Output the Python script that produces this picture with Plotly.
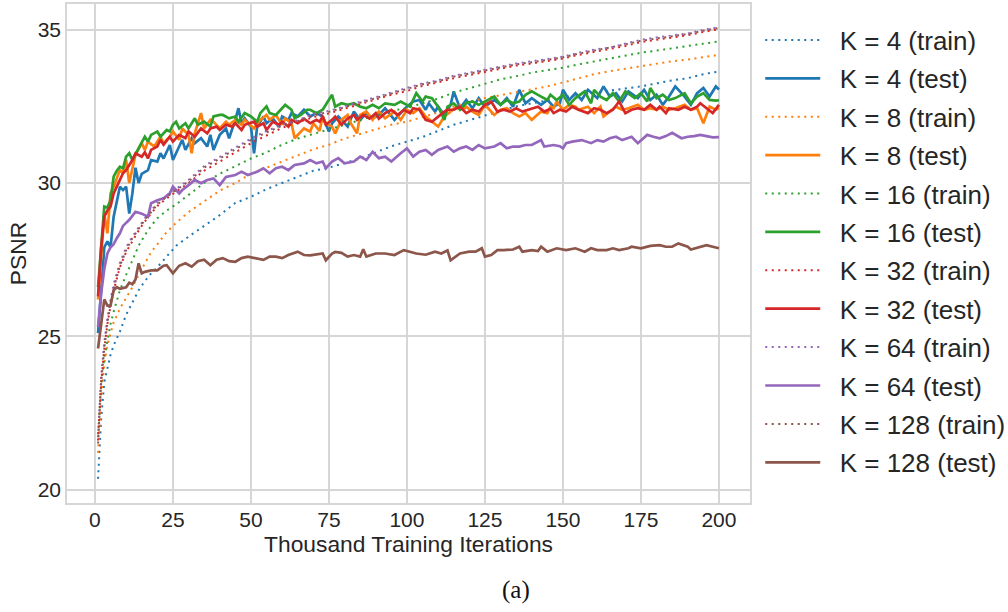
import plotly.graph_objects as go

# Sample iterations (thousands) for the smooth training curves
TRAIN_X = [1, 2, 3, 4, 5, 6, 8, 10, 12, 14, 16, 18, 20, 23, 26, 30, 35, 40, 45, 50,
           55, 60, 65, 70, 75, 80, 85, 90, 95, 100, 105, 110, 115, 120, 125, 130, 135, 140, 145, 150,
           155, 160, 165, 170, 175, 180, 185, 190, 195, 200]

TRAIN_K4 = [20.35, 22.3, 23.5, 24.0, 24.4, 24.7, 25.15, 25.7, 26.1, 26.5, 26.8, 27.05, 27.25, 27.6, 27.95, 28.25, 28.6, 28.95, 29.35, 29.55,
            29.8, 30.0, 30.2, 30.4, 30.5, 30.65, 30.8, 31.0, 31.2, 31.35, 31.5, 31.7, 31.9, 32.05, 32.2, 32.35, 32.5, 32.6, 32.7, 32.8,
            32.88, 32.95, 33.02, 33.1, 33.15, 33.25, 33.35, 33.42, 33.55, 33.64]
TRAIN_K8 = [21.2, 23.0, 24.1, 24.7, 25.1, 25.45, 25.9, 26.25, 26.6, 27.0, 27.4, 27.75, 28.0, 28.4, 28.7, 29.05, 29.4, 29.75, 30.0, 30.3,
            30.5, 30.7, 30.9, 31.1, 31.25, 31.45, 31.6, 31.75, 31.9, 32.0, 32.15, 32.3, 32.5, 32.65, 32.77, 32.87, 32.97, 33.05, 33.15, 33.28,
            33.42, 33.55, 33.65, 33.73, 33.82, 33.9, 33.97, 34.03, 34.1, 34.18]
TRAIN_K16 = [21.8, 23.4, 24.3, 24.9, 25.4, 25.8, 26.5, 27.0, 27.45, 27.95, 28.3, 28.6, 28.85, 29.1, 29.3, 29.6, 30.0, 30.3, 30.55, 30.8,
             31.0, 31.25, 31.45, 31.6, 31.75, 31.9, 32.05, 32.2, 32.35, 32.45, 32.6, 32.75, 32.95, 33.1, 33.25, 33.38, 33.48, 33.6, 33.68, 33.76,
             33.87, 33.97, 34.07, 34.17, 34.25, 34.32, 34.4, 34.47, 34.55, 34.62]
TRAIN_K32 = [21.6, 23.5, 24.6, 25.4, 26.0, 26.5, 27.25, 27.75, 28.1, 28.45, 28.75, 29.0, 29.25, 29.5, 29.72, 30.0, 30.4, 30.7, 31.0, 31.3,
             31.55, 31.8, 31.97, 32.15, 32.27, 32.42, 32.57, 32.73, 32.88, 33.0, 33.17, 33.28, 33.42, 33.52, 33.63, 33.72, 33.83, 33.9, 33.98, 34.06,
             34.18, 34.27, 34.36, 34.47, 34.6, 34.68, 34.76, 34.82, 34.93, 35.02]
TRAIN_K64 = [21.7, 23.7, 24.8, 25.6, 26.2, 26.7, 27.4, 27.9, 28.25, 28.55, 28.85, 29.1, 29.35, 29.6, 29.8, 30.1, 30.55, 30.85, 31.15, 31.45,
             31.7, 31.9, 32.05, 32.25, 32.35, 32.5, 32.65, 32.82, 32.97, 33.1, 33.25, 33.35, 33.5, 33.6, 33.7, 33.8, 33.9, 33.97, 34.05, 34.12,
             34.25, 34.35, 34.42, 34.55, 34.67, 34.75, 34.82, 34.88, 35.0, 35.08]
TRAIN_K128 = [21.5, 23.5, 24.6, 25.45, 26.05, 26.55, 27.3, 27.8, 28.2, 28.5, 28.8, 29.05, 29.3, 29.55, 29.77, 30.05, 30.5, 30.8, 31.1, 31.4,
              31.65, 31.87, 32.02, 32.2, 32.32, 32.47, 32.62, 32.78, 32.93, 33.06, 33.22, 33.32, 33.47, 33.57, 33.67, 33.77, 33.87, 33.94, 34.02, 34.1,
              34.22, 34.32, 34.4, 34.52, 34.64, 34.72, 34.8, 34.86, 34.97, 35.06]

# Test PSNR curves (noisy), each with its own iteration samples
TEST_K4_X = [1, 2, 3, 4, 5, 6, 7, 8, 9, 10, 11, 12, 13, 14, 15, 17, 18, 20, 21, 22,
             24, 25, 26, 28, 29, 31, 32, 34, 36, 37, 38, 40, 42, 43, 45, 46, 47, 48, 50, 51,
             52, 54, 55, 57, 59, 60, 62, 63, 65, 67, 69, 71, 73, 75, 76, 78, 81, 83, 85, 87,
             89, 91, 93, 96, 98, 100, 102, 104, 106, 107, 109, 110, 112, 114, 115, 117, 119, 121, 123, 125,
             128, 130, 132, 134, 136, 138, 140, 143, 145, 147, 149, 150, 152, 154, 156, 158, 161, 163, 165, 167,
             169, 171, 174, 176, 178, 180, 182, 184, 186, 189, 191, 193, 195, 197, 199, 200]
TEST_K4 = [25.1, 26.6, 27.9, 28.1, 27.9, 28.9, 29.44, 29.88, 29.77, 29.88, 29.0, 29.66, 30.5, 30.0, 30.3, 30.42, 30.75, 30.7, 30.97, 30.8,
           31.24, 30.75, 30.97, 31.41, 31.08, 31.46, 31.3, 31.46, 31.19, 31.57, 31.08, 31.57, 31.78, 31.46, 32.06, 32.44, 31.95, 32.11, 31.84, 30.97,
           31.84, 32.17, 31.95, 32.11, 31.84, 32.17, 32.06, 32.28, 32.17, 32.39, 32.17, 32.28, 32.17, 31.68, 31.95, 32.17, 31.84, 32.33, 32.06, 32.28,
           32.11, 32.22, 32.44, 32.06, 32.28, 32.49, 32.66, 32.71, 32.39, 32.6, 32.33, 32.49, 32.22, 32.55, 32.99, 32.44, 32.71, 32.44, 32.77, 32.49,
           32.71, 32.55, 32.77, 32.49, 33.04, 32.6, 32.77, 32.55, 32.71, 32.49, 32.6, 33.04, 32.71, 32.93, 32.71, 33.04, 32.77, 33.15, 32.82, 32.93,
           32.66, 32.99, 32.77, 33.04, 32.71, 32.88, 32.55, 32.82, 33.15, 32.82, 32.55, 32.93, 33.1, 32.82, 33.15, 33.05]

TEST_K8_X = [1, 2, 3, 4, 5, 6, 8, 9, 10, 11, 13, 15, 16, 17, 19, 21, 22, 24, 25, 27,
             28, 30, 31, 32, 34, 35, 37, 38, 40, 42, 43, 45, 47, 48, 51, 53, 55, 56, 58, 60,
             61, 63, 64, 67, 69, 70, 72, 73, 74, 76, 77, 79, 81, 82, 84, 85, 87, 89, 91, 93,
             96, 98, 100, 102, 104, 106, 108, 110, 112, 114, 116, 118, 119, 121, 123, 125, 128, 130, 132, 134,
             136, 138, 140, 143, 145, 146, 147, 148, 150, 152, 154, 155, 158, 160, 162, 163, 165, 167, 169, 171,
             174, 176, 178, 180, 182, 184, 186, 189, 191, 193, 195, 197, 199, 200]
TEST_K8 = [26.2, 27.6, 29.0, 28.36, 29.66, 29.88, 30.42, 30.32, 30.75, 30.0, 30.92, 31.3, 31.08, 31.35, 31.19, 31.51, 31.3, 31.51, 31.68, 31.41,
           31.78, 31.57, 30.97, 31.62, 32.28, 31.78, 32.06, 32.0, 31.78, 32.0, 31.9, 32.06, 31.9, 32.06, 31.78, 32.06, 32.22, 32.06, 32.22, 31.9,
           32.11, 31.95, 31.46, 31.78, 31.68, 31.95, 31.7, 32.17, 31.95, 31.84, 31.62, 32.06, 32.22, 31.95, 31.62, 32.22, 32.33, 32.06, 32.33, 32.11,
           32.33, 32.06, 32.39, 32.28, 32.44, 32.17, 32.0, 31.84, 32.17, 32.33, 32.49, 32.39, 32.49, 32.33, 32.22, 32.55, 32.22, 32.39, 32.44, 32.28,
           32.17, 32.28, 32.06, 32.33, 32.28, 32.49, 32.44, 32.66, 32.39, 32.55, 32.49, 32.39, 32.49, 32.28, 32.49, 32.17, 32.33, 32.49, 32.39, 32.44,
           32.55, 32.39, 32.44, 32.39, 32.49, 32.39, 32.44, 32.55, 32.39, 32.44, 31.95, 32.49, 32.39, 32.45]

TEST_K16_X = [1, 2, 3, 4, 5, 6, 7, 8, 9, 10, 11, 12, 14, 15, 16, 17, 18, 20, 21, 23,
              24, 25, 26, 27, 29, 30, 32, 33, 35, 37, 38, 40, 41, 43, 45, 46, 48, 50, 52, 53,
              55, 56, 58, 60, 61, 63, 64, 66, 68, 69, 71, 73, 75, 76, 77, 79, 81, 83, 85, 87,
              89, 91, 93, 96, 98, 100, 101, 103, 105, 106, 108, 110, 112, 113, 115, 117, 119, 121, 123, 126,
              128, 130, 132, 134, 136, 138, 140, 143, 145, 146, 148, 150, 152, 154, 157, 159, 160, 162, 164, 166,
              168, 170, 173, 175, 177, 178, 180, 182, 184, 186, 189, 191, 193, 195, 197, 199, 200]
TEST_K16 = [26.6, 28.0, 29.23, 29.2, 29.44, 30.21, 30.4, 30.53, 30.48, 30.86, 30.97, 30.75, 31.13, 31.3, 31.51, 31.35, 31.57, 31.68, 31.51, 31.73,
            31.68, 31.9, 32.0, 31.78, 31.95, 31.78, 32.11, 31.9, 32.0, 31.84, 32.17, 32.22, 32.22, 32.11, 32.17, 32.0, 32.28, 32.17, 32.0, 32.28,
            32.5, 32.28, 32.22, 32.44, 32.55, 32.39, 32.11, 32.22, 32.39, 32.39, 32.28, 32.39, 32.72, 32.88, 32.49, 32.6, 32.55, 32.6, 32.49, 32.44,
            32.55, 32.44, 32.6, 32.55, 32.66, 32.55, 32.49, 32.93, 32.66, 32.82, 32.77, 32.49, 32.06, 32.49, 32.6, 32.39, 32.6, 32.66, 32.55, 32.71,
            32.82, 32.55, 32.71, 32.6, 32.66, 32.88, 32.99, 32.82, 32.71, 32.88, 32.71, 32.88, 32.55, 32.77, 32.99, 32.6, 33.04, 32.82, 32.71, 32.93,
            32.66, 32.99, 32.77, 32.93, 32.66, 33.1, 32.77, 32.88, 32.71, 32.77, 32.93, 32.6, 32.82, 32.93, 32.71, 32.69, 32.7]

TEST_K32_X = [1, 2, 3, 4, 5, 6, 7, 9, 10, 12, 13, 15, 16, 17, 18, 20, 21, 22, 24, 25,
              27, 29, 30, 32, 34, 36, 37, 39, 40, 42, 44, 45, 47, 48, 51, 52, 54, 55, 57, 59,
              60, 62, 63, 65, 67, 69, 71, 72, 73, 74, 76, 77, 79, 81, 83, 84, 86, 88, 90, 91,
              93, 95, 97, 99, 101, 102, 104, 106, 108, 110, 112, 113, 115, 117, 119, 121, 123, 125, 127, 129,
              131, 133, 135, 137, 139, 142, 144, 146, 147, 149, 151, 153, 155, 158, 160, 162, 164, 166, 168, 170,
              172, 174, 176, 178, 180, 181, 183, 184, 187, 189, 191, 193, 194, 196, 198, 200]
TEST_K32 = [26.3, 27.9, 28.9, 29.1, 29.23, 29.66, 29.88, 30.32, 30.42, 30.75, 30.97, 30.86, 31.0, 30.8, 31.08, 31.19, 31.41, 31.25, 31.51, 31.35,
            31.57, 31.46, 31.68, 31.51, 31.78, 31.62, 31.78, 31.84, 31.73, 31.9, 31.84, 31.95, 31.73, 31.9, 32.0, 31.84, 31.95, 31.73, 32.0, 31.9,
            32.0, 31.84, 32.06, 31.95, 32.1, 31.95, 32.06, 32.0, 32.17, 31.9, 32.06, 32.17, 31.9, 32.1, 32.22, 32.06, 32.22, 32.1, 32.28, 32.1,
            32.28, 32.39, 32.22, 32.39, 32.28, 32.44, 32.39, 32.06, 32.0, 32.17, 32.33, 32.39, 32.39, 32.49, 32.28, 32.39, 32.33, 32.55, 32.66, 32.33,
            32.39, 32.33, 32.44, 32.33, 32.39, 32.49, 32.33, 32.42, 32.28, 32.39, 32.33, 32.49, 32.39, 32.28, 32.44, 32.39, 32.28, 32.39, 32.66, 32.28,
            32.39, 32.44, 32.39, 32.55, 32.39, 32.49, 32.28, 32.44, 32.39, 32.49, 32.39, 32.49, 32.6, 32.44, 32.28, 32.55]

TEST_K64_X = [1, 2, 3, 4, 5, 6, 7, 8, 9, 10, 11, 13, 15, 17, 18, 20, 22, 24, 25, 27,
              28, 30, 32, 34, 36, 38, 40, 42, 45, 47, 49, 52, 54, 56, 58, 60, 62, 64, 67, 69,
              71, 73, 74, 76, 78, 80, 83, 85, 87, 89, 91, 93, 95, 98, 100, 102, 104, 106, 108, 110,
              113, 115, 117, 119, 121, 123, 125, 128, 130, 132, 134, 136, 138, 140, 143, 144, 147, 149, 150, 151,
              153, 156, 159, 161, 163, 165, 167, 169, 172, 174, 176, 177, 179, 181, 183, 185, 188, 190, 192, 194,
              196, 198, 200]
TEST_K64 = [25.3, 26.4, 27.2, 27.7, 27.9, 28.0, 28.2, 28.36, 28.6, 28.7, 28.8, 29.06, 29.0, 28.9, 29.34, 29.44, 29.5, 29.66, 29.88, 29.66,
            29.77, 29.93, 30.1, 29.99, 30.1, 30.15, 29.93, 30.2, 30.26, 30.37, 30.26, 30.37, 30.48, 30.32, 30.48, 30.53, 30.42, 30.59, 30.64, 30.75,
            30.64, 30.7, 30.48, 30.7, 30.81, 30.64, 30.7, 30.86, 30.75, 31.02, 30.81, 30.86, 30.7, 30.97, 31.13, 30.86, 31.02, 31.08, 30.92, 31.08,
            31.19, 31.02, 31.13, 31.19, 31.08, 31.24, 31.13, 31.19, 31.3, 31.13, 31.19, 31.19, 31.24, 31.24, 31.4, 31.19, 31.24, 31.2, 31.13, 31.3,
            31.35, 31.4, 31.3, 31.4, 31.35, 31.46, 31.51, 31.4, 31.51, 31.3, 31.46, 31.57, 31.51, 31.46, 31.53, 31.64, 31.46, 31.51, 31.53, 31.57,
            31.53, 31.49, 31.5]

TEST_K128_X = [1, 2, 3, 4, 5, 6, 7, 8, 10, 11, 12, 13, 14, 15, 16, 18, 20, 22, 23, 25,
               27, 29, 31, 33, 35, 37, 39, 41, 43, 45, 47, 49, 51, 54, 56, 58, 60, 62, 65, 67,
               69, 71, 73, 74, 76, 77, 79, 81, 83, 85, 86, 87, 90, 93, 96, 99, 103, 106, 109, 111,
               113, 114, 117, 120, 122, 124, 125, 127, 129, 131, 134, 136, 137, 140, 142, 143, 145, 148, 151, 154,
               157, 159, 161, 164, 166, 168, 171, 172, 175, 178, 181, 183, 185, 187, 190, 191, 194, 196, 198, 200]
TEST_K128 = [24.6, 25.5, 26.2, 26.0, 26.0, 26.5, 26.6, 26.55, 26.6, 26.75, 26.7, 26.85, 27.38, 27.05, 27.1, 27.15, 27.15, 27.3, 27.32, 27.05,
             27.3, 27.38, 27.27, 27.45, 27.5, 27.32, 27.5, 27.55, 27.45, 27.43, 27.55, 27.6, 27.55, 27.49, 27.6, 27.6, 27.55, 27.65, 27.76, 27.65,
             27.64, 27.68, 27.7, 27.48, 27.7, 27.75, 27.72, 27.6, 27.65, 27.6, 27.84, 27.6, 27.7, 27.7, 27.65, 27.81, 27.7, 27.66, 27.76, 27.7,
             27.8, 27.48, 27.7, 27.76, 27.76, 27.87, 27.6, 27.65, 27.81, 27.81, 27.83, 27.92, 27.76, 27.81, 27.78, 27.92, 27.76, 27.87, 27.81, 27.87,
             27.76, 27.87, 27.81, 27.81, 27.87, 27.81, 27.87, 27.92, 27.87, 27.95, 27.97, 27.92, 27.92, 28.03, 27.92, 27.83, 27.92, 27.97, 27.92, 27.87]

K_VALUES = [4, 8, 16, 32, 64, 128]
COLORS = ["#1f77b4", "#ff7f0e", "#2ca02c", "#d62728", "#9467bd", "#8c564b"]
TRAIN_SERIES = [TRAIN_K4, TRAIN_K8, TRAIN_K16, TRAIN_K32, TRAIN_K64, TRAIN_K128]
TEST_SERIES = [(TEST_K4_X, TEST_K4), (TEST_K8_X, TEST_K8), (TEST_K16_X, TEST_K16),
               (TEST_K32_X, TEST_K32), (TEST_K64_X, TEST_K64), (TEST_K128_X, TEST_K128)]

X_TICKS = [0, 25, 50, 75, 100, 125, 150, 175, 200]
Y_TICKS = [20, 25, 30, 35]

FONT = "Liberation Sans, Arial, sans-serif"
INK = "#262626"
GRID = "#d6d6d6"
PAD = "\u00a0\u00a0"  # gap between legend sample line and its label

fig = go.Figure()
for k, color, train, (tx, ty) in zip(K_VALUES, COLORS, TRAIN_SERIES, TEST_SERIES):
    assert len(train) == len(TRAIN_X) and len(tx) == len(ty)
    fig.add_trace(go.Scatter(
        x=TRAIN_X, y=train, mode="lines", name=f"{PAD}K = {k} (train)",
        legendgroup=f"{k}train",
        line=dict(color=color, width=2, dash="2px,4.5px"),
    ))
    fig.add_trace(go.Scatter(
        x=tx, y=ty, mode="lines", name=f"{PAD}K = {k} (test)",
        legendgroup=f"{k}test",
        line=dict(color=color, width=2.7),
    ))

axis_common = dict(
    showgrid=True, gridcolor=GRID, gridwidth=1.5,
    showline=True, linecolor=GRID, linewidth=1.5, mirror=True,
    zeroline=False, ticks="",
    tickfont=dict(family=FONT, size=21, color=INK),
)

fig.update_layout(
    width=1008, height=612,
    margin=dict(l=67, r=258, t=4, b=109, autoexpand=False),
    paper_bgcolor="white", plot_bgcolor="white",
    font=dict(family=FONT, color=INK),
    xaxis=dict(range=[-8.95, 209.95], tickvals=X_TICKS, ticklabelstandoff=-3,
               title=dict(text="Thousand Training Iterations",
                          font=dict(family=FONT, size=22.8, color=INK), standoff=5),
               **axis_common),
    yaxis=dict(range=[19.56, 35.84], tickvals=Y_TICKS,
               title=dict(text="PSNR", font=dict(family=FONT, size=22.8, color=INK), standoff=5),
               **axis_common),
    legend=dict(x=1.015, y=0.975, xanchor="left", yanchor="top",
                font=dict(family=FONT, size=26, color=INK),
                bgcolor="rgba(0,0,0,0)", borderwidth=0,
                tracegroupgap=1.6, itemwidth=55),
    showlegend=True,
    annotations=[dict(text="(a)", xref="paper", yref="paper", x=0.657, y=-0.174,
                      xanchor="center", yanchor="middle", showarrow=False,
                      font=dict(family="Liberation Serif, DejaVu Serif, serif", size=25, color="#111111"))],
)

fig.write_html("out.html")
